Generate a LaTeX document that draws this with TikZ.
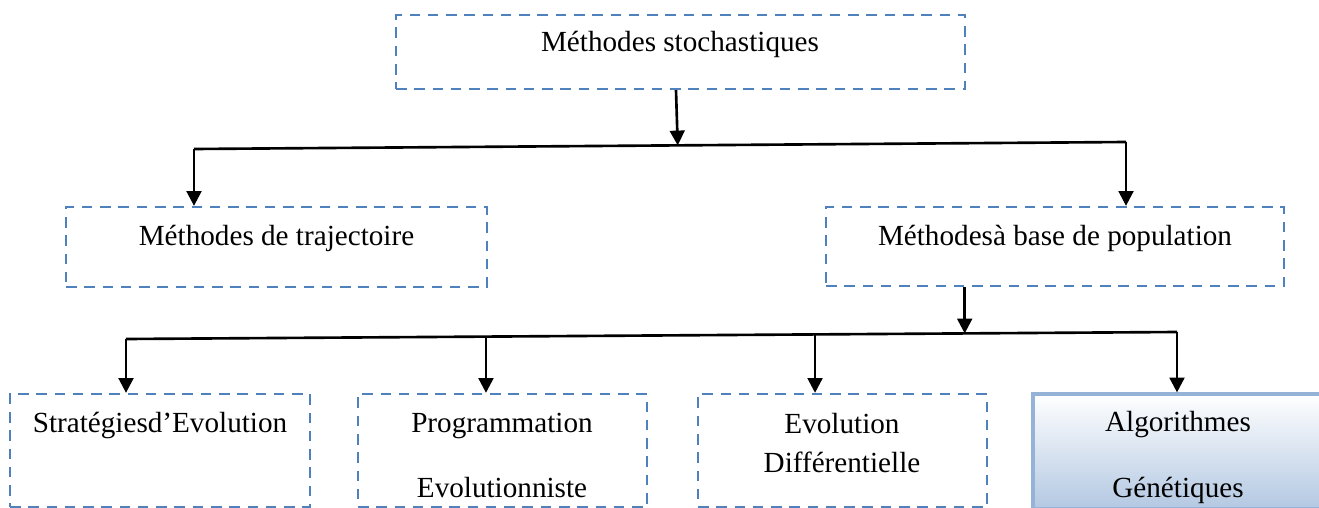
\documentclass[tikz,border=0pt]{standalone}
\usepackage{fontspec}
\setmainfont{Liberation Serif}
\usetikzlibrary{arrows.meta,calc}
\definecolor{boxblue}{HTML}{4F81BD}
\definecolor{gaborder}{HTML}{95B3D7}
\definecolor{gafill}{HTML}{B3C8E2}

\begin{document}
\begin{tikzpicture}[
    dashbox/.style={draw=boxblue,line width=0.65pt,dash pattern=on 3pt off 2.2pt,inner sep=0pt},
    gabox/.style={draw=gaborder,line width=0.9pt,top color=white,bottom color=gafill,inner sep=0pt},
    txt/.style={anchor=base,inner sep=0pt,font=\fontsize{8.3}{10}\selectfont},
    conn/.style={line width=0.75pt},
    arr/.style={line width=0.75pt,-{Triangle[length=4.2pt,width=4.2pt]}}
]
    \useasboundingbox (0,0) rectangle (13.19,-5.08);

    % Boxes of the tree
    \node[dashbox,minimum width=5.69cm,minimum height=0.74cm] (stoch) at (6.805,-0.52) {};
    \node[dashbox,minimum width=4.21cm,minimum height=0.80cm] (traj) at (2.765,-2.47) {};
    \node[dashbox,minimum width=4.58cm,minimum height=0.79cm] (pop) at (10.55,-2.465) {};
    \node[dashbox,minimum width=3.00cm,minimum height=1.13cm] (strat) at (1.60,-4.505) {};
    \node[dashbox,minimum width=2.89cm,minimum height=1.13cm] (prog) at (5.025,-4.505) {};
    \node[dashbox,minimum width=2.89cm,minimum height=1.13cm] (diff) at (8.425,-4.505) {};
    \node[gabox,minimum width=2.92cm,minimum height=1.15cm] (algo) at (11.79,-4.515) {};

    % Texts
    \node[txt] (stoch-t) at (6.80,-0.52) {Méthodes stochastiques};
    \node[txt] (traj-t) at (2.765,-2.45) {Méthodes de trajectoire};
    \node[txt] (pop-t) at (10.55,-2.45) {Méthodesà base de population};
    \node[txt] (strat-t) at (1.60,-4.32) {Stratégiesd’Evolution};
    \node[txt] (prog-t1) at (5.02,-4.32) {Programmation};
    \node[txt] (prog-t2) at (5.02,-4.97) {Evolutionniste};
    \node[txt] (diff-t1) at (8.42,-4.33) {Evolution};
    \node[txt] (diff-t2) at (8.42,-4.72) {Différentielle};
    \node[txt] (algo-t1) at (11.78,-4.31) {Algorithmes};
    \node[txt] (algo-t2) at (11.78,-4.97) {Génétiques};

    % First level
    \coordinate (h1l) at (1.94,-1.49);
    \coordinate (h1r) at (11.26,-1.42);
    \coordinate (j1) at ($(h1l)!0.519!(h1r)$);
    \draw[arr] ([xshift=-0.045cm]stoch.south) -- (j1);
    \draw[conn] (h1l) -- (h1r);
    \draw[arr] (h1l) -- (h1l |- traj.north);
    \draw[arr] (h1r) -- (h1r |- pop.north);

    % Second level
    \coordinate (h2l) at (1.26,-3.39);
    \coordinate (h2r) at (11.77,-3.32);
    \coordinate (j2) at ($(h2l)!0.798!(h2r)$);
    \coordinate (v2) at ($(h2l)!0.3425!(h2r)$);
    \coordinate (v3) at ($(h2l)!0.6556!(h2r)$);
    \draw[arr] (j2 |- pop.south) -- (j2);
    \draw[conn] (h2l) -- (h2r);
    \draw[arr] (h2l) -- (h2l |- strat.north);
    \draw[arr] (v2) -- (v2 |- prog.north);
    \draw[arr] (v3) -- (v3 |- diff.north);
    \draw[arr] (h2r) -- (h2r |- algo.north);
\end{tikzpicture}
\end{document}
